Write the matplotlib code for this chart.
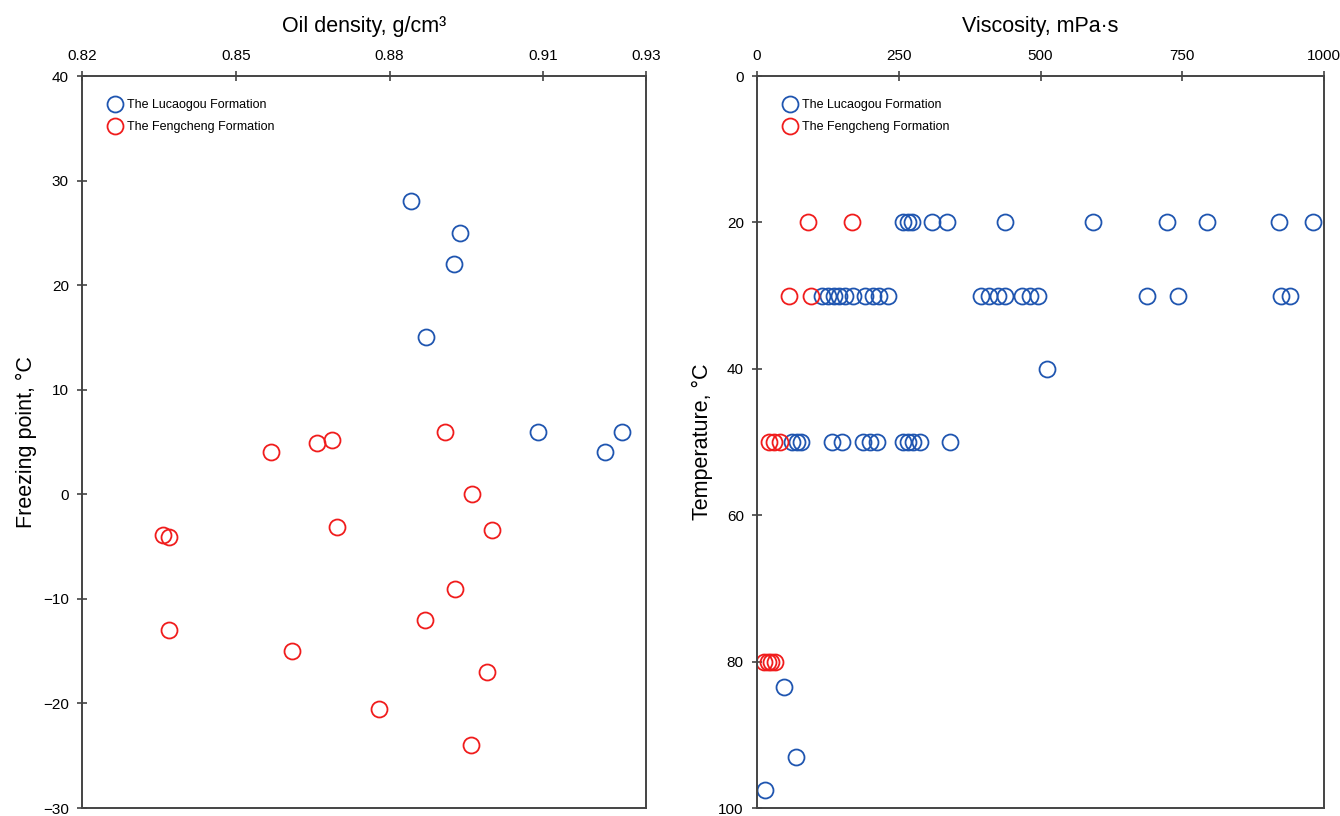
import matplotlib
matplotlib.use("Agg")

import matplotlib.pyplot as plt

plt.rcParams['font.family'] = ['Liberation Sans', 'DejaVu Sans']

# Left panel: oil density vs freezing point
luc_density = [0.8842, 0.8937, 0.8926, 0.8871, 0.9089, 0.9221, 0.9254]
luc_freeze = [28, 25, 22, 15, 6, 4, 6]

feng_density = [0.8568, 0.8659, 0.8688, 0.8908, 0.8961, 0.9000, 0.8698,
                0.8358, 0.8369, 0.8369, 0.8609, 0.8928, 0.8869, 0.8990,
                0.8780, 0.8959]
feng_freeze = [4, 4.9, 5.2, 6, 0, -3.4, -3.1, -3.9, -4.1, -13, -15, -9.1,
               -12, -17, -20.5, -24]

# Right panel: viscosity vs temperature
luc_visc = [258, 266, 273, 309, 335, 437, 593, 723, 794, 921, 981,
            115, 125, 135, 145, 155, 170, 190, 205, 216, 231,
            395, 410, 425, 438, 468, 482, 495, 687, 742, 924, 940,
            511,
            62, 70, 78, 132, 150, 187, 199, 211, 257, 267, 275, 287, 340,
            48, 69, 14]
luc_temp = [20] * 11 + [30] * 10 + [30] * 11 + [40] + [50] * 13 + [83.5, 93, 97.5]

feng_visc = [90, 168, 56, 96, 21, 30, 40, 12, 19, 25, 32]
feng_temp = [20, 20, 30, 30, 50, 50, 50, 80, 80, 80, 80]

blue = '#1f55b0'
red = '#f01c1c'
edge = '#444444'

fig = plt.figure(figsize=(13.4, 8.16), dpi=100)
ax1 = fig.add_axes([82 / 1340, 8 / 816, 564 / 1340, 732 / 816])
ax2 = fig.add_axes([757 / 1340, 8 / 816, 567 / 1340, 732 / 816])

mk = dict(linestyle='none', marker='o', markersize=11.5, markerfacecolor='none',
          markeredgewidth=1.3)

ax1.plot(luc_density, luc_freeze, markeredgecolor=blue, label='The Lucaogou Formation', **mk)
ax1.plot(feng_density, feng_freeze, markeredgecolor=red, label='The Fengcheng Formation', **mk)
ax1.set_xlim(0.82, 0.93)
ax1.set_ylim(-30, 40)
ax1.set_xticks([0.82, 0.85, 0.88, 0.91, 0.93])
ax1.set_xticklabels(['0.82', '0.85', '0.88', '0.91', '0.93'])
ax1.set_yticks(range(-30, 41, 10))
ax1.set_yticklabels(['\u221230', '\u221220', '\u221210', '0', '10', '20', '30', '40'])
ax1.set_xlabel('Oil density, g/cm\u00b3', fontsize=15.5, labelpad=12)
ax1.set_ylabel('Freezing point, \u00b0C', fontsize=15.5, labelpad=4)

ax2.plot(luc_visc, luc_temp, markeredgecolor=blue, label='The Lucaogou Formation', **mk)
ax2.plot(feng_visc, feng_temp, markeredgecolor=red, label='The Fengcheng Formation', **mk)
ax2.set_xlim(0, 1000)
ax2.set_ylim(100, 0)
ax2.set_xticks([0, 250, 500, 750, 1000])
ax2.set_yticks(range(0, 101, 20))
ax2.set_xlabel('Viscosity, mPa\u00b7s', fontsize=15.5, labelpad=12)
ax2.set_ylabel('Temperature, \u00b0C', fontsize=15.5, labelpad=4)

for ax in (ax1, ax2):
    ax.xaxis.set_label_position('top')
    ax.xaxis.tick_top()
    ax.tick_params(axis='both', direction='inout', length=7, width=1.2,
                   color=edge, labelsize=11, pad=6)
    for s in ax.spines.values():
        s.set_color(edge)
        s.set_linewidth(1.4)
    ax.legend(loc='upper left', frameon=False, fontsize=9, handletextpad=0.3,
              borderaxespad=1.2, labelspacing=0.8, handlelength=1.2,
              bbox_to_anchor=(0.0103, 0.996))

fig.savefig('out.png', dpi=100)
